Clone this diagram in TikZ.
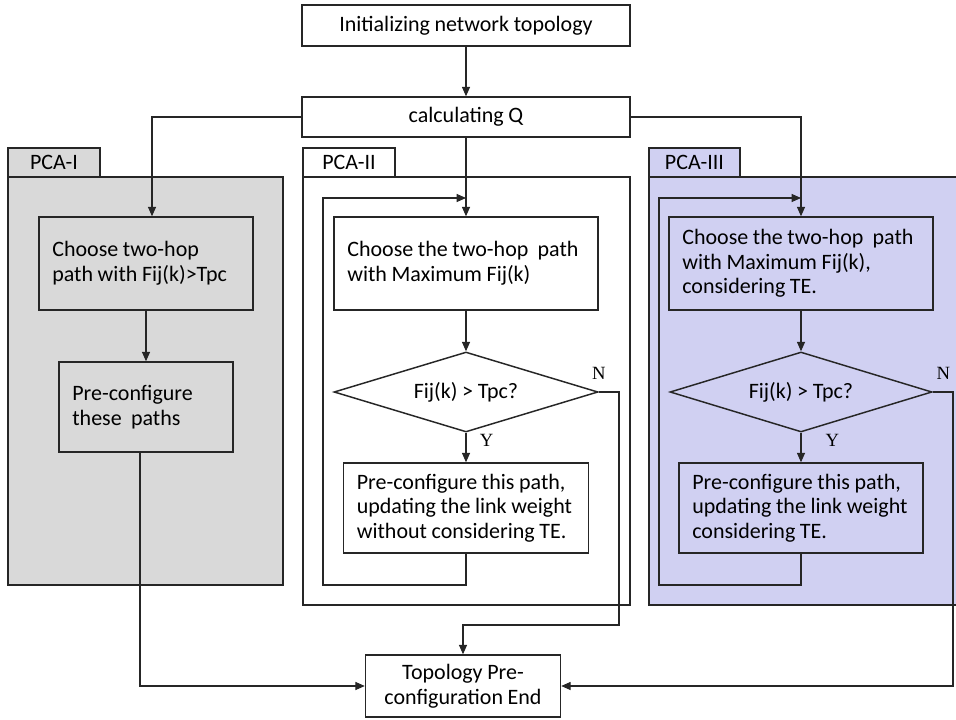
\documentclass[tikz,border=0pt]{standalone}
\usepackage{fontspec}
\setmainfont{Carlito}
\newfontfamily\tnr{Liberation Serif}
\usetikzlibrary{shapes.geometric,arrows.meta}
\definecolor{pgray}{RGB}{217,217,217}
\definecolor{ppurple}{RGB}{208,208,242}
\definecolor{ink}{RGB}{38,38,38}
\begin{document}
\begin{tikzpicture}[x=0.75pt,y=-0.75pt, font=\fontsize{16.5}{18.5}\selectfont,
 every node/.append style={execute at begin node={\spaceskip=0.21em plus 0.05em\relax}},
 box/.style={draw=ink, line width=1.1pt, align=center, inner sep=0pt},
 lbox/.style 2 args={draw=ink, line width=1.1pt, align=left, inner xsep=10pt, inner ysep=0pt, text width=#1, minimum height=#2},
 dec/.style={draw=ink, line width=1.1pt, diamond, inner sep=0pt},
 arr/.style={draw=ink, line width=0.8pt, -{Triangle[length=7pt,width=6pt]}},
 ln/.style={draw=ink, line width=0.8pt},
 panel/.style={draw=ink, line width=1.1pt},
 tab/.style={draw=ink, line width=1.1pt, inner sep=0pt, minimum height=21.75pt},
 yn/.style={font=\tnr\fontsize{14}{14}\selectfont, inner sep=0pt}]
\useasboundingbox (0,0) rectangle (956,720);

% panels
\draw[panel, fill=pgray] (8,177) rectangle (283,585);
\node[tab, fill=pgray, minimum width=69pt] (t1) at (54,162.5) {PCA-I};
\draw[panel, fill=white] (303,177) rectangle (630,605);
\node[tab, fill=white, minimum width=69pt] (t2) at (349,162.5) {PCA-II};
\draw[panel, fill=ppurple] (649,177) rectangle (958,605);
\node[tab, fill=ppurple, minimum width=68.25pt] (t3) at (694.5,162.5) {PCA-III};

% main nodes
\node[box, minimum width=246pt, minimum height=30.75pt, fill=white] (init) at (466,25.5) {Initializing network topology};
\node[box, minimum width=246pt, minimum height=30pt, fill=white] (calc) at (466,117) {calculating Q};

\node[lbox={140.5pt}{69.75pt}, fill=pgray] (c1) at (146,263.5) {Choose two-hop\\path with Fij(k)>Tpc};
\node[lbox={110.5pt}{67.5pt}, fill=pgray] (p1) at (146,407) {Pre-configure\\these\ \ paths};

\node[lbox={178pt}{69.75pt}, fill=white] (c2) at (466,263.5) {Choose the two-hop\ \ path\\with Maximum Fij(k)};
\node[dec, fill=white, minimum width=198pt, minimum height=60pt] (d2) at (466,392) {};
\node (d2t) at (d2) {Fij(k) > Tpc?};
\node[lbox={163.75pt}{67.5pt}, fill=white] (p2) at (466,508) {Pre-configure this path,\\updating the link weight\\without considering TE.};

\node[lbox={178pt}{69.75pt}, fill=ppurple] (c3) at (801,263.5) {Choose the two-hop\ \ path\\with Maximum Fij(k),\\considering TE.};
\node[dec, fill=ppurple, minimum width=196.5pt, minimum height=60pt] (d3) at (801,392) {};
\node (d3t) at (d3) {Fij(k) > Tpc?};
\node[lbox={163pt}{67.5pt}, fill=ppurple] (p3) at (801,508) {Pre-configure this path,\\updating the link weight\\considering TE.};

\node[box, minimum width=146.25pt, minimum height=46.5pt, fill=white] (end) at (463,686) {Topology Pre-\\configuration End};

% helper coordinates
\coordinate (l2a) at (323,585);
\coordinate (l2b) at (323,198);
\coordinate (j2) at (466,198);
\coordinate (n2) at (619,625);
\coordinate (l3a) at (659,585);
\coordinate (l3b) at (659,198);
\coordinate (j3) at (801,198);
\coordinate (n3) at (953,686);

% connectors
\draw[arr] (init) -- (calc);
\draw[arr] (calc.west) -| ([xshift=4.5pt]c1.north);
\draw[arr] (calc.south) -- (c2.north);
\draw[arr] (calc.east) -| (c3.north);

\draw[arr] (c1) -- (p1);
\draw[arr] ([xshift=-4.5pt]p1.south) |- (end.west);

\draw[arr] (c2) -- (d2);
\draw[arr] (d2.south) -- node[yn, right=10pt, pos=0.25]{Y} (p2.north);
\draw[arr] (p2.south) |- (l2a) -- (l2b) -- (j2);
\draw[arr] (d2.east) node[yn, above=9pt]{N} -| (n2) -| (end.north);

\draw[arr] (c3) -- (d3);
\draw[arr] (d3.south) -- node[yn, right=18pt, pos=0.25]{Y} (p3.north);
\draw[arr] (p3.south) |- (l3a) -- (l3b) -- (j3);
\draw[arr] (d3.east) node[yn, above=9pt, xshift=8pt]{N} -| (n3) -- (end.east);
\end{tikzpicture}
\end{document}
